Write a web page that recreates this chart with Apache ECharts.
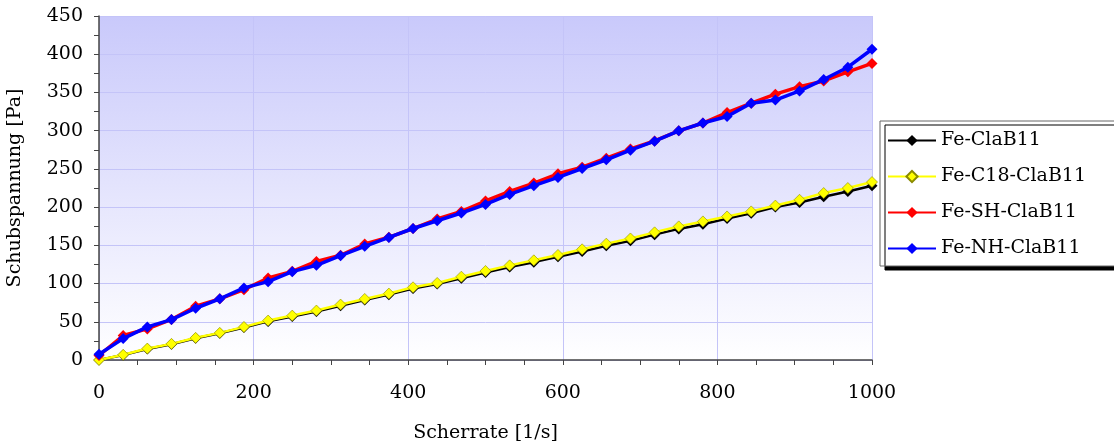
<!DOCTYPE html>
<html><head><meta charset="utf-8">
<script src="https://cdn.jsdelivr.net/npm/echarts@6/dist/echarts.min.js"></script>
<style>html,body{margin:0;padding:0;background:#fff}#c{width:1114px;height:443px}</style>
</head><body><div id="c"></div>
<script>
const shearRate = [0,31.25,62.5,93.75,125,156.25,187.5,218.75,250,281.25,312.5,343.75,375,406.25,437.5,468.75,500,531.25,562.5,593.75,625,656.25,687.5,718.75,750,781.25,812.5,843.75,875,906.25,937.5,968.75,1000];
const feClaB11   = [0,6.5,14.5,20.5,28.5,35,42.5,50.5,57,63.5,71,78.5,85.5,93.5,99.5,107,114.5,121.5,128,135,142,149.5,156,164,171.5,177.5,185,192,200,206,213.5,220.5,228];
const feC18ClaB11= [0,6.8,15,21.1,29,35.5,43.3,51.6,58.1,64.7,72.5,79.9,86.9,95.1,100.8,109,116.5,123.8,130.4,137.4,144.8,152.2,159,167,174.8,181.3,187.8,194.4,202,209.6,218.4,225,232.8];
const feSHClaB11 = [5.9,32,40.7,53,70.3,80,92,107.3,116,129,137,151.7,160.5,172,184.4,194.4,208,220.5,231.4,243.6,252.3,264,276,286.5,299.8,310,323.7,336,347.7,357.6,365,377,388];
const feNHClaB11 = [7.6,28,43.3,52.9,67.7,80,94.3,102.5,115.6,123.9,136.5,148.7,160.4,172,182.2,192.3,203.5,216.6,228,238.8,250.5,261.9,274.5,286.3,299.8,310,318.5,336,340,352,367,383,406.5];
const names = ['Fe-ClaB11','Fe-C18-ClaB11','Fe-SH-ClaB11','Fe-NH-ClaB11'];
const colors = ['#000000','#ffff00','#ff0000','#0000ff'];
const datasets = [feClaB11, feC18ClaB11, feSHClaB11, feNHClaB11];

const font = 'DejaVu Serif';
const fs = 19;
const chart = echarts.init(document.getElementById('c'), null, {renderer:'canvas'});
chart.setOption({
  animation:false,
  textStyle:{fontFamily:font},
  grid:{left:99,right:242,top:16,bottom:83,show:true,borderWidth:0,outerBoundsMode:'none',containLabel:false,
    backgroundColor:new echarts.graphic.LinearGradient(0,0,0,1,[{offset:0,color:'#c9c9fb'},{offset:1,color:'#ffffff'}])},
  legend:{orient:'vertical',left:880,top:121,width:260,
    backgroundColor:'#ffffff',borderColor:'#666',borderWidth:1,
    shadowColor:'#000',shadowOffsetX:5,shadowOffsetY:4,shadowBlur:0,
    padding:[10,200,8,7],itemGap:17,itemWidth:48,itemHeight:14,
    textStyle:{fontFamily:font,fontSize:fs,color:'#000'},
    data:names},
  xAxis:{type:'value',min:0,max:1000,interval:200,
    name:'Scherrate [1/s]',nameLocation:'middle',nameGap:64,
    nameTextStyle:{fontFamily:font,fontSize:fs,color:'#000'},
    axisLine:{show:true,lineStyle:{color:'#444',width:1.5}},
    axisTick:{show:true,length:5,lineStyle:{color:'#444'}},
    minorTick:{show:true,splitNumber:4,length:5,lineStyle:{color:'#444'}},
    axisLabel:{fontFamily:font,fontSize:fs,color:'#000',margin:24,formatter:v=>String(v)},
    splitLine:{show:true,lineStyle:{color:'#c4c4f8',width:1}}},
  yAxis:{type:'value',min:0,max:450,interval:50,
    name:'Schubspannung [Pa]',nameLocation:'middle',nameGap:74,
    nameTextStyle:{fontFamily:font,fontSize:fs,color:'#000'},
    axisLine:{show:true,lineStyle:{color:'#444',width:1.5}},
    axisTick:{show:true,length:5,lineStyle:{color:'#444'}},
    minorTick:{show:true,splitNumber:2,length:5,lineStyle:{color:'#444'}},
    axisLabel:{fontFamily:font,fontSize:fs,color:'#000',margin:16,formatter:v=>String(v)},
    splitLine:{show:true,lineStyle:{color:'#c4c4f8',width:1}}},
  series:datasets.map((d,i)=>({
    name:names[i],type:'line',
    data:d.map((v,j)=>[shearRate[j],v]),
    symbol:'diamond',symbolSize:11,showSymbol:true,
    color:colors[i],
    lineStyle:{color:colors[i],width:i>=2?3.5:2.5},
    itemStyle:{color:colors[i],borderColor:i===1?'#8a8a00':colors[i],borderWidth:i===1?0.6:0},
    z:2+i
  }))
});
</script></body></html>
